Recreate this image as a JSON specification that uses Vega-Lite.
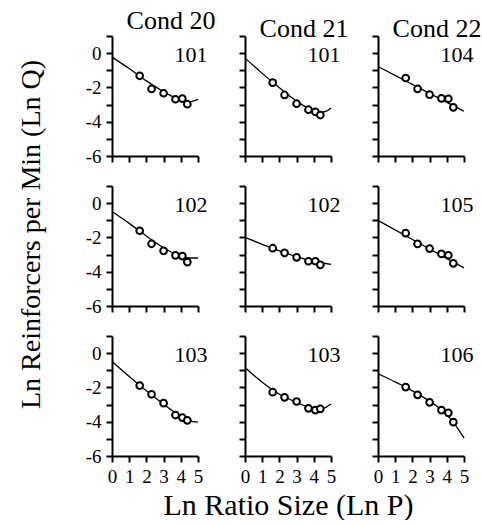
{
  "$schema": "https://vega.github.io/schema/vega-lite/v6.json",
  "padding": {"left": 16, "top": 8, "right": 0, "bottom": 0},
  "datasets": {
    "d": [
      {"p":1,"k":"pt","x":1.61,"y":-1.32},{"p":1,"k":"pt","x":2.30,"y":-2.09},{"p":1,"k":"pt","x":3.00,"y":-2.34},{"p":1,"k":"pt","x":3.69,"y":-2.69},{"p":1,"k":"pt","x":4.09,"y":-2.65},{"p":1,"k":"pt","x":4.38,"y":-2.98},
      {"p":1,"k":"fit","x":0,"y":-0.23},{"p":1,"k":"fit","x":1,"y":-0.9},{"p":1,"k":"fit","x":2,"y":-1.62},{"p":1,"k":"fit","x":3,"y":-2.25},{"p":1,"k":"fit","x":3.5,"y":-2.52},{"p":1,"k":"fit","x":4,"y":-2.72},{"p":1,"k":"fit","x":4.5,"y":-2.84},{"p":1,"k":"fit","x":5,"y":-2.7},
      {"p":1,"k":"lab","s":"101"},
      {"p":2,"k":"pt","x":1.61,"y":-1.72},{"p":2,"k":"pt","x":2.30,"y":-2.44},{"p":2,"k":"pt","x":3.00,"y":-2.95},{"p":2,"k":"pt","x":3.69,"y":-3.30},{"p":2,"k":"pt","x":4.09,"y":-3.42},{"p":2,"k":"pt","x":4.38,"y":-3.61},
      {"p":2,"k":"fit","x":0,"y":-0.29},{"p":2,"k":"fit","x":1,"y":-1.18},{"p":2,"k":"fit","x":2,"y":-2.02},{"p":2,"k":"fit","x":3,"y":-2.8},{"p":2,"k":"fit","x":3.5,"y":-3.12},{"p":2,"k":"fit","x":4,"y":-3.36},{"p":2,"k":"fit","x":4.4,"y":-3.45},{"p":2,"k":"fit","x":4.7,"y":-3.4},{"p":2,"k":"fit","x":5,"y":-3.2},
      {"p":2,"k":"lab","s":"101"},
      {"p":3,"k":"pt","x":1.61,"y":-1.45},{"p":3,"k":"pt","x":2.30,"y":-2.08},{"p":3,"k":"pt","x":3.00,"y":-2.42},{"p":3,"k":"pt","x":3.69,"y":-2.64},{"p":3,"k":"pt","x":4.09,"y":-2.66},{"p":3,"k":"pt","x":4.38,"y":-3.16},
      {"p":3,"k":"fit","x":0,"y":-0.78},{"p":3,"k":"fit","x":2.5,"y":-2.08},{"p":3,"k":"fit","x":5,"y":-3.39},
      {"p":3,"k":"lab","s":"104"},
      {"p":4,"k":"pt","x":1.61,"y":-1.61},{"p":4,"k":"pt","x":2.30,"y":-2.37},{"p":4,"k":"pt","x":3.00,"y":-2.78},{"p":4,"k":"pt","x":3.69,"y":-3.05},{"p":4,"k":"pt","x":4.09,"y":-3.09},{"p":4,"k":"pt","x":4.38,"y":-3.44},
      {"p":4,"k":"fit","x":0,"y":-0.49},{"p":4,"k":"fit","x":1,"y":-1.18},{"p":4,"k":"fit","x":2,"y":-1.92},{"p":4,"k":"fit","x":3,"y":-2.6},{"p":4,"k":"fit","x":3.5,"y":-2.88},{"p":4,"k":"fit","x":4,"y":-3.08},{"p":4,"k":"fit","x":4.5,"y":-3.2},{"p":4,"k":"fit","x":5,"y":-3.2},
      {"p":4,"k":"lab","s":"102"},
      {"p":5,"k":"pt","x":1.61,"y":-2.63},{"p":5,"k":"pt","x":2.30,"y":-2.9},{"p":5,"k":"pt","x":3.00,"y":-3.16},{"p":5,"k":"pt","x":3.69,"y":-3.39},{"p":5,"k":"pt","x":4.09,"y":-3.39},{"p":5,"k":"pt","x":4.38,"y":-3.6},
      {"p":5,"k":"fit","x":0,"y":-2.0},{"p":5,"k":"fit","x":1,"y":-2.4},{"p":5,"k":"fit","x":2,"y":-2.78},{"p":5,"k":"fit","x":3,"y":-3.12},{"p":5,"k":"fit","x":4,"y":-3.4},{"p":5,"k":"fit","x":5,"y":-3.57},
      {"p":5,"k":"lab","s":"102"},
      {"p":6,"k":"pt","x":1.61,"y":-1.75},{"p":6,"k":"pt","x":2.30,"y":-2.38},{"p":6,"k":"pt","x":3.00,"y":-2.65},{"p":6,"k":"pt","x":3.69,"y":-2.96},{"p":6,"k":"pt","x":4.09,"y":-3.04},{"p":6,"k":"pt","x":4.38,"y":-3.51},
      {"p":6,"k":"fit","x":0,"y":-1.01},{"p":6,"k":"fit","x":2.5,"y":-2.4},{"p":6,"k":"fit","x":5,"y":-3.78},
      {"p":6,"k":"lab","s":"105"},
      {"p":7,"k":"pt","x":1.61,"y":-1.89},{"p":7,"k":"pt","x":2.30,"y":-2.40},{"p":7,"k":"pt","x":3.00,"y":-2.92},{"p":7,"k":"pt","x":3.69,"y":-3.61},{"p":7,"k":"pt","x":4.09,"y":-3.76},{"p":7,"k":"pt","x":4.38,"y":-3.92},
      {"p":7,"k":"fit","x":0,"y":-0.49},{"p":7,"k":"fit","x":1,"y":-1.36},{"p":7,"k":"fit","x":2,"y":-2.2},{"p":7,"k":"fit","x":3,"y":-2.98},{"p":7,"k":"fit","x":3.5,"y":-3.35},{"p":7,"k":"fit","x":4,"y":-3.7},{"p":7,"k":"fit","x":4.5,"y":-3.93},{"p":7,"k":"fit","x":5,"y":-4.03},
      {"p":7,"k":"lab","s":"103"},
      {"p":8,"k":"pt","x":1.61,"y":-2.28},{"p":8,"k":"pt","x":2.30,"y":-2.58},{"p":8,"k":"pt","x":3.00,"y":-2.82},{"p":8,"k":"pt","x":3.69,"y":-3.22},{"p":8,"k":"pt","x":4.09,"y":-3.32},{"p":8,"k":"pt","x":4.38,"y":-3.25},
      {"p":8,"k":"fit","x":0,"y":-0.84},{"p":8,"k":"fit","x":1,"y":-1.7},{"p":8,"k":"fit","x":2,"y":-2.4},{"p":8,"k":"fit","x":3,"y":-2.87},{"p":8,"k":"fit","x":3.5,"y":-3.08},{"p":8,"k":"fit","x":4,"y":-3.22},{"p":8,"k":"fit","x":4.4,"y":-3.26},{"p":8,"k":"fit","x":4.7,"y":-3.16},{"p":8,"k":"fit","x":5,"y":-2.97},
      {"p":8,"k":"lab","s":"103"},
      {"p":9,"k":"pt","x":1.61,"y":-1.98},{"p":9,"k":"pt","x":2.30,"y":-2.43},{"p":9,"k":"pt","x":3.00,"y":-2.87},{"p":9,"k":"pt","x":3.69,"y":-3.32},{"p":9,"k":"pt","x":4.09,"y":-3.48},{"p":9,"k":"pt","x":4.38,"y":-4.02},
      {"p":9,"k":"fit","x":0,"y":-1.2},{"p":9,"k":"fit","x":1,"y":-1.68},{"p":9,"k":"fit","x":2,"y":-2.2},{"p":9,"k":"fit","x":3,"y":-2.8},{"p":9,"k":"fit","x":3.5,"y":-3.15},{"p":9,"k":"fit","x":4,"y":-3.6},{"p":9,"k":"fit","x":4.5,"y":-4.2},{"p":9,"k":"fit","x":5,"y":-4.95},
      {"p":9,"k":"lab","s":"106"}
    ]
  },
  "data": {"name": "d"},
  "columns": 3,
  "spacing": {"row": 30, "column": 47},
  "bounds": "flush",
  "concat": [
    {"width":86,"height":120,"title":{"text":"Cond 20","dx":16},"transform":[{"filter":"datum.p==1"}],
     "layer":[
       {"transform":[{"filter":"datum.k=='fit'"}],"mark":{"type":"line","color":"black","strokeWidth":1.3,"interpolate":"monotone"},
        "encoding":{"x":{"field":"x","type":"quantitative","scale":{"domain":[0,5],"nice":false},"axis":{"values":[0,1,2,3,4,5],"labels":false,"title":null}},
                    "y":{"field":"y","type":"quantitative","scale":{"domain":[-6,1],"nice":false},"axis":{"values":[1,0,-1,-2,-3,-4,-5,-6],"labelExpr":"datum.value % 2 === 0 ? (datum.value < 0 ? '-' + abs(datum.value) : '' + datum.value) : ''","title":null}}}},
       {"transform":[{"filter":"datum.k=='pt'"}],"mark":{"type":"point","shape":"circle","filled":true,"fill":"white","stroke":"black","strokeWidth":2,"size":45,"opacity":1},
        "encoding":{"x":{"field":"x","type":"quantitative","scale":{"domain":[0,5],"nice":false},"axis":{"values":[0,1,2,3,4,5],"labels":false,"title":null}},
                    "y":{"field":"y","type":"quantitative","scale":{"domain":[-6,1],"nice":false},"axis":{"values":[1,0,-1,-2,-3,-4,-5,-6],"labelExpr":"datum.value % 2 === 0 ? (datum.value < 0 ? '-' + abs(datum.value) : '' + datum.value) : ''","title":null}}}},
       {"transform":[{"filter":"datum.k=='lab'"}],"mark":{"type":"text","align":"right","baseline":"alphabetic","font":"Liberation Serif","fontSize":22,"color":"black"},
        "encoding":{"x":{"datum":5.55,"type":"quantitative","scale":{"domain":[0,5],"nice":false},"axis":{"values":[0,1,2,3,4,5],"labels":false,"title":null}},
                    "y":{"datum":-0.5,"type":"quantitative","scale":{"domain":[-6,1],"nice":false},"axis":{"values":[1,0,-1,-2,-3,-4,-5,-6],"labelExpr":"datum.value % 2 === 0 ? (datum.value < 0 ? '-' + abs(datum.value) : '' + datum.value) : ''","title":null}},
                    "text":{"field":"s"}}}
     ]},
    {"width":86,"height":120,"title":{"text":"Cond 21","dx":16},"transform":[{"filter":"datum.p==2"}],
     "layer":[
       {"transform":[{"filter":"datum.k=='fit'"}],"mark":{"type":"line","color":"black","strokeWidth":1.3,"interpolate":"monotone"},
        "encoding":{"x":{"field":"x","type":"quantitative","scale":{"domain":[0,5],"nice":false},"axis":{"values":[0,1,2,3,4,5],"labels":false,"title":null}},
                    "y":{"field":"y","type":"quantitative","scale":{"domain":[-6,1],"nice":false},"axis":{"values":[1,0,-1,-2,-3,-4,-5,-6],"labels":false,"title":null}}}},
       {"transform":[{"filter":"datum.k=='pt'"}],"mark":{"type":"point","shape":"circle","filled":true,"fill":"white","stroke":"black","strokeWidth":2,"size":45,"opacity":1},
        "encoding":{"x":{"field":"x","type":"quantitative","scale":{"domain":[0,5],"nice":false},"axis":{"values":[0,1,2,3,4,5],"labels":false,"title":null}},
                    "y":{"field":"y","type":"quantitative","scale":{"domain":[-6,1],"nice":false},"axis":{"values":[1,0,-1,-2,-3,-4,-5,-6],"labels":false,"title":null}}}},
       {"transform":[{"filter":"datum.k=='lab'"}],"mark":{"type":"text","align":"right","baseline":"alphabetic","font":"Liberation Serif","fontSize":22,"color":"black"},
        "encoding":{"x":{"datum":5.55,"type":"quantitative","scale":{"domain":[0,5],"nice":false},"axis":{"values":[0,1,2,3,4,5],"labels":false,"title":null}},
                    "y":{"datum":-0.5,"type":"quantitative","scale":{"domain":[-6,1],"nice":false},"axis":{"values":[1,0,-1,-2,-3,-4,-5,-6],"labels":false,"title":null}},
                    "text":{"field":"s"}}}
     ]},
    {"width":86,"height":120,"title":{"text":"Cond 22","dx":16},"transform":[{"filter":"datum.p==3"}],
     "layer":[
       {"transform":[{"filter":"datum.k=='fit'"}],"mark":{"type":"line","color":"black","strokeWidth":1.3,"interpolate":"monotone"},
        "encoding":{"x":{"field":"x","type":"quantitative","scale":{"domain":[0,5],"nice":false},"axis":{"values":[0,1,2,3,4,5],"labels":false,"title":null}},
                    "y":{"field":"y","type":"quantitative","scale":{"domain":[-6,1],"nice":false},"axis":{"values":[1,0,-1,-2,-3,-4,-5,-6],"labels":false,"title":null}}}},
       {"transform":[{"filter":"datum.k=='pt'"}],"mark":{"type":"point","shape":"circle","filled":true,"fill":"white","stroke":"black","strokeWidth":2,"size":45,"opacity":1},
        "encoding":{"x":{"field":"x","type":"quantitative","scale":{"domain":[0,5],"nice":false},"axis":{"values":[0,1,2,3,4,5],"labels":false,"title":null}},
                    "y":{"field":"y","type":"quantitative","scale":{"domain":[-6,1],"nice":false},"axis":{"values":[1,0,-1,-2,-3,-4,-5,-6],"labels":false,"title":null}}}},
       {"transform":[{"filter":"datum.k=='lab'"}],"mark":{"type":"text","align":"right","baseline":"alphabetic","font":"Liberation Serif","fontSize":22,"color":"black"},
        "encoding":{"x":{"datum":5.55,"type":"quantitative","scale":{"domain":[0,5],"nice":false},"axis":{"values":[0,1,2,3,4,5],"labels":false,"title":null}},
                    "y":{"datum":-0.5,"type":"quantitative","scale":{"domain":[-6,1],"nice":false},"axis":{"values":[1,0,-1,-2,-3,-4,-5,-6],"labels":false,"title":null}},
                    "text":{"field":"s"}}}
     ]},
    {"width":86,"height":120,"transform":[{"filter":"datum.p==4"}],
     "layer":[
       {"transform":[{"filter":"datum.k=='fit'"}],"mark":{"type":"line","color":"black","strokeWidth":1.3,"interpolate":"monotone"},
        "encoding":{"x":{"field":"x","type":"quantitative","scale":{"domain":[0,5],"nice":false},"axis":{"values":[0,1,2,3,4,5],"labels":false,"title":null}},
                    "y":{"field":"y","type":"quantitative","scale":{"domain":[-6,1],"nice":false},"axis":{"values":[1,0,-1,-2,-3,-4,-5,-6],"labelExpr":"datum.value % 2 === 0 ? (datum.value < 0 ? '-' + abs(datum.value) : '' + datum.value) : ''","title":"Ln Reinforcers per Min (Ln Q)","titleX":-81,"titleY":48,"titleAngle":-90,"titleBaseline":"middle","titleAlign":"center"}}}},
       {"transform":[{"filter":"datum.k=='pt'"}],"mark":{"type":"point","shape":"circle","filled":true,"fill":"white","stroke":"black","strokeWidth":2,"size":45,"opacity":1},
        "encoding":{"x":{"field":"x","type":"quantitative","scale":{"domain":[0,5],"nice":false},"axis":{"values":[0,1,2,3,4,5],"labels":false,"title":null}},
                    "y":{"field":"y","type":"quantitative","scale":{"domain":[-6,1],"nice":false},"axis":{"values":[1,0,-1,-2,-3,-4,-5,-6],"labelExpr":"datum.value % 2 === 0 ? (datum.value < 0 ? '-' + abs(datum.value) : '' + datum.value) : ''","title":"Ln Reinforcers per Min (Ln Q)","titleX":-81,"titleY":48,"titleAngle":-90,"titleBaseline":"middle","titleAlign":"center"}}}},
       {"transform":[{"filter":"datum.k=='lab'"}],"mark":{"type":"text","align":"right","baseline":"alphabetic","font":"Liberation Serif","fontSize":22,"color":"black"},
        "encoding":{"x":{"datum":5.55,"type":"quantitative","scale":{"domain":[0,5],"nice":false},"axis":{"values":[0,1,2,3,4,5],"labels":false,"title":null}},
                    "y":{"datum":-0.5,"type":"quantitative","scale":{"domain":[-6,1],"nice":false},"axis":{"values":[1,0,-1,-2,-3,-4,-5,-6],"labelExpr":"datum.value % 2 === 0 ? (datum.value < 0 ? '-' + abs(datum.value) : '' + datum.value) : ''","title":"Ln Reinforcers per Min (Ln Q)","titleX":-81,"titleY":48,"titleAngle":-90,"titleBaseline":"middle","titleAlign":"center"}},
                    "text":{"field":"s"}}}
     ]},
    {"width":86,"height":120,"transform":[{"filter":"datum.p==5"}],
     "layer":[
       {"transform":[{"filter":"datum.k=='fit'"}],"mark":{"type":"line","color":"black","strokeWidth":1.3,"interpolate":"monotone"},
        "encoding":{"x":{"field":"x","type":"quantitative","scale":{"domain":[0,5],"nice":false},"axis":{"values":[0,1,2,3,4,5],"labels":false,"title":null}},
                    "y":{"field":"y","type":"quantitative","scale":{"domain":[-6,1],"nice":false},"axis":{"values":[1,0,-1,-2,-3,-4,-5,-6],"labels":false,"title":null}}}},
       {"transform":[{"filter":"datum.k=='pt'"}],"mark":{"type":"point","shape":"circle","filled":true,"fill":"white","stroke":"black","strokeWidth":2,"size":45,"opacity":1},
        "encoding":{"x":{"field":"x","type":"quantitative","scale":{"domain":[0,5],"nice":false},"axis":{"values":[0,1,2,3,4,5],"labels":false,"title":null}},
                    "y":{"field":"y","type":"quantitative","scale":{"domain":[-6,1],"nice":false},"axis":{"values":[1,0,-1,-2,-3,-4,-5,-6],"labels":false,"title":null}}}},
       {"transform":[{"filter":"datum.k=='lab'"}],"mark":{"type":"text","align":"right","baseline":"alphabetic","font":"Liberation Serif","fontSize":22,"color":"black"},
        "encoding":{"x":{"datum":5.55,"type":"quantitative","scale":{"domain":[0,5],"nice":false},"axis":{"values":[0,1,2,3,4,5],"labels":false,"title":null}},
                    "y":{"datum":-0.5,"type":"quantitative","scale":{"domain":[-6,1],"nice":false},"axis":{"values":[1,0,-1,-2,-3,-4,-5,-6],"labels":false,"title":null}},
                    "text":{"field":"s"}}}
     ]},
    {"width":86,"height":120,"transform":[{"filter":"datum.p==6"}],
     "layer":[
       {"transform":[{"filter":"datum.k=='fit'"}],"mark":{"type":"line","color":"black","strokeWidth":1.3,"interpolate":"monotone"},
        "encoding":{"x":{"field":"x","type":"quantitative","scale":{"domain":[0,5],"nice":false},"axis":{"values":[0,1,2,3,4,5],"labels":false,"title":null}},
                    "y":{"field":"y","type":"quantitative","scale":{"domain":[-6,1],"nice":false},"axis":{"values":[1,0,-1,-2,-3,-4,-5,-6],"labels":false,"title":null}}}},
       {"transform":[{"filter":"datum.k=='pt'"}],"mark":{"type":"point","shape":"circle","filled":true,"fill":"white","stroke":"black","strokeWidth":2,"size":45,"opacity":1},
        "encoding":{"x":{"field":"x","type":"quantitative","scale":{"domain":[0,5],"nice":false},"axis":{"values":[0,1,2,3,4,5],"labels":false,"title":null}},
                    "y":{"field":"y","type":"quantitative","scale":{"domain":[-6,1],"nice":false},"axis":{"values":[1,0,-1,-2,-3,-4,-5,-6],"labels":false,"title":null}}}},
       {"transform":[{"filter":"datum.k=='lab'"}],"mark":{"type":"text","align":"right","baseline":"alphabetic","font":"Liberation Serif","fontSize":22,"color":"black"},
        "encoding":{"x":{"datum":5.55,"type":"quantitative","scale":{"domain":[0,5],"nice":false},"axis":{"values":[0,1,2,3,4,5],"labels":false,"title":null}},
                    "y":{"datum":-0.5,"type":"quantitative","scale":{"domain":[-6,1],"nice":false},"axis":{"values":[1,0,-1,-2,-3,-4,-5,-6],"labels":false,"title":null}},
                    "text":{"field":"s"}}}
     ]},
    {"width":86,"height":120,"transform":[{"filter":"datum.p==7"}],
     "layer":[
       {"transform":[{"filter":"datum.k=='fit'"}],"mark":{"type":"line","color":"black","strokeWidth":1.3,"interpolate":"monotone"},
        "encoding":{"x":{"field":"x","type":"quantitative","scale":{"domain":[0,5],"nice":false},"axis":{"values":[0,1,2,3,4,5],"title":null}},
                    "y":{"field":"y","type":"quantitative","scale":{"domain":[-6,1],"nice":false},"axis":{"values":[1,0,-1,-2,-3,-4,-5,-6],"labelExpr":"datum.value % 2 === 0 ? (datum.value < 0 ? '-' + abs(datum.value) : '' + datum.value) : ''","title":null}}}},
       {"transform":[{"filter":"datum.k=='pt'"}],"mark":{"type":"point","shape":"circle","filled":true,"fill":"white","stroke":"black","strokeWidth":2,"size":45,"opacity":1},
        "encoding":{"x":{"field":"x","type":"quantitative","scale":{"domain":[0,5],"nice":false},"axis":{"values":[0,1,2,3,4,5],"title":null}},
                    "y":{"field":"y","type":"quantitative","scale":{"domain":[-6,1],"nice":false},"axis":{"values":[1,0,-1,-2,-3,-4,-5,-6],"labelExpr":"datum.value % 2 === 0 ? (datum.value < 0 ? '-' + abs(datum.value) : '' + datum.value) : ''","title":null}}}},
       {"transform":[{"filter":"datum.k=='lab'"}],"mark":{"type":"text","align":"right","baseline":"alphabetic","font":"Liberation Serif","fontSize":22,"color":"black"},
        "encoding":{"x":{"datum":5.55,"type":"quantitative","scale":{"domain":[0,5],"nice":false},"axis":{"values":[0,1,2,3,4,5],"title":null}},
                    "y":{"datum":-0.5,"type":"quantitative","scale":{"domain":[-6,1],"nice":false},"axis":{"values":[1,0,-1,-2,-3,-4,-5,-6],"labelExpr":"datum.value % 2 === 0 ? (datum.value < 0 ? '-' + abs(datum.value) : '' + datum.value) : ''","title":null}},
                    "text":{"field":"s"}}}
     ]},
    {"width":86,"height":120,"transform":[{"filter":"datum.p==8"}],
     "layer":[
       {"transform":[{"filter":"datum.k=='fit'"}],"mark":{"type":"line","color":"black","strokeWidth":1.3,"interpolate":"monotone"},
        "encoding":{"x":{"field":"x","type":"quantitative","scale":{"domain":[0,5],"nice":false},"axis":{"values":[0,1,2,3,4,5],"title":"Ln Ratio Size (Ln P)","titleFontSize":30}},
                    "y":{"field":"y","type":"quantitative","scale":{"domain":[-6,1],"nice":false},"axis":{"values":[1,0,-1,-2,-3,-4,-5,-6],"labels":false,"title":null}}}},
       {"transform":[{"filter":"datum.k=='pt'"}],"mark":{"type":"point","shape":"circle","filled":true,"fill":"white","stroke":"black","strokeWidth":2,"size":45,"opacity":1},
        "encoding":{"x":{"field":"x","type":"quantitative","scale":{"domain":[0,5],"nice":false},"axis":{"values":[0,1,2,3,4,5],"title":"Ln Ratio Size (Ln P)","titleFontSize":30}},
                    "y":{"field":"y","type":"quantitative","scale":{"domain":[-6,1],"nice":false},"axis":{"values":[1,0,-1,-2,-3,-4,-5,-6],"labels":false,"title":null}}}},
       {"transform":[{"filter":"datum.k=='lab'"}],"mark":{"type":"text","align":"right","baseline":"alphabetic","font":"Liberation Serif","fontSize":22,"color":"black"},
        "encoding":{"x":{"datum":5.55,"type":"quantitative","scale":{"domain":[0,5],"nice":false},"axis":{"values":[0,1,2,3,4,5],"title":"Ln Ratio Size (Ln P)","titleFontSize":30}},
                    "y":{"datum":-0.5,"type":"quantitative","scale":{"domain":[-6,1],"nice":false},"axis":{"values":[1,0,-1,-2,-3,-4,-5,-6],"labels":false,"title":null}},
                    "text":{"field":"s"}}}
     ]},
    {"width":86,"height":120,"transform":[{"filter":"datum.p==9"}],
     "layer":[
       {"transform":[{"filter":"datum.k=='fit'"}],"mark":{"type":"line","color":"black","strokeWidth":1.3,"interpolate":"monotone"},
        "encoding":{"x":{"field":"x","type":"quantitative","scale":{"domain":[0,5],"nice":false},"axis":{"values":[0,1,2,3,4,5],"title":null}},
                    "y":{"field":"y","type":"quantitative","scale":{"domain":[-6,1],"nice":false},"axis":{"values":[1,0,-1,-2,-3,-4,-5,-6],"labels":false,"title":null}}}},
       {"transform":[{"filter":"datum.k=='pt'"}],"mark":{"type":"point","shape":"circle","filled":true,"fill":"white","stroke":"black","strokeWidth":2,"size":45,"opacity":1},
        "encoding":{"x":{"field":"x","type":"quantitative","scale":{"domain":[0,5],"nice":false},"axis":{"values":[0,1,2,3,4,5],"title":null}},
                    "y":{"field":"y","type":"quantitative","scale":{"domain":[-6,1],"nice":false},"axis":{"values":[1,0,-1,-2,-3,-4,-5,-6],"labels":false,"title":null}}}},
       {"transform":[{"filter":"datum.k=='lab'"}],"mark":{"type":"text","align":"right","baseline":"alphabetic","font":"Liberation Serif","fontSize":22,"color":"black"},
        "encoding":{"x":{"datum":5.55,"type":"quantitative","scale":{"domain":[0,5],"nice":false},"axis":{"values":[0,1,2,3,4,5],"title":null}},
                    "y":{"datum":-0.5,"type":"quantitative","scale":{"domain":[-6,1],"nice":false},"axis":{"values":[1,0,-1,-2,-3,-4,-5,-6],"labels":false,"title":null}},
                    "text":{"field":"s"}}}
     ]}
  ],
  "config": {
    "view": {"stroke": null},
    "axis": {"domainColor":"black","domainWidth":2,"tickColor":"black","tickWidth":2,"tickSize":6,"labelFont":"Liberation Serif","labelFontSize":19,"labelColor":"black","labelPadding":5,"labelFlush":false,"labelOverlap":false,"titleFont":"Liberation Serif","titleFontSize":28,"titleFontWeight":"normal","titleColor":"black","grid":false},
    "title": {"font":"Liberation Serif","fontSize":26,"fontWeight":"normal","color":"black","offset":-7}
  }
}
